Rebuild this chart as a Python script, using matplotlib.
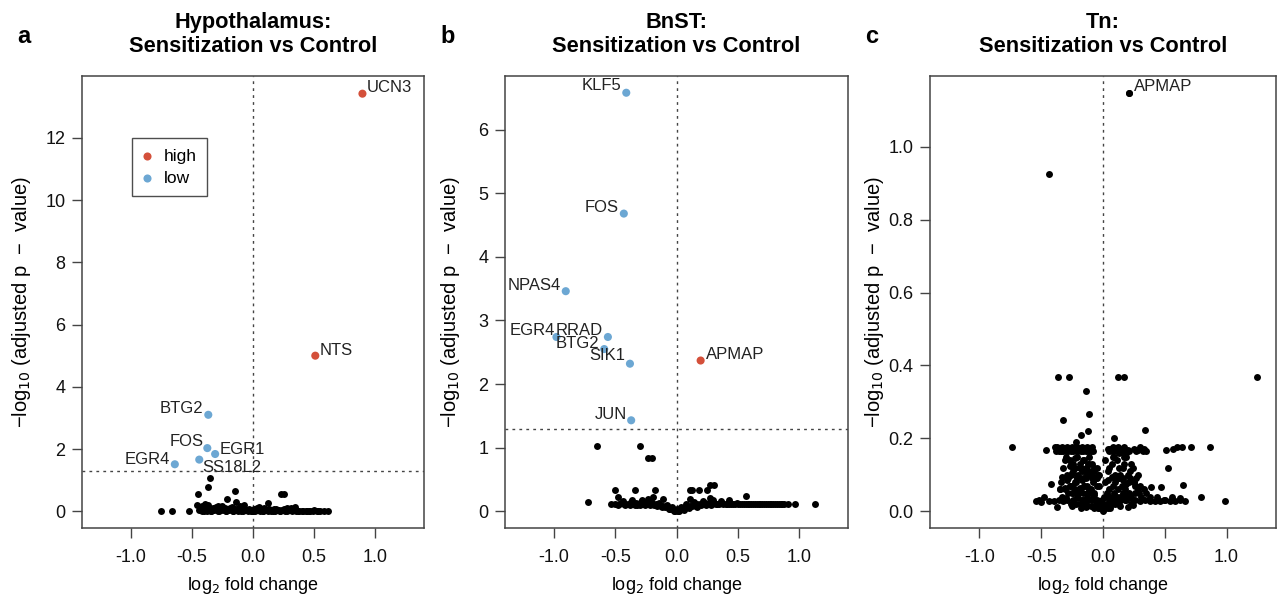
import matplotlib
matplotlib.use('Agg')
import matplotlib.pyplot as plt
from matplotlib.ticker import FuncFormatter

plt.rcParams['font.family'] = ['Liberation Sans', 'DejaVu Sans']

RED = '#d4503a'
BLUE = '#6ca7d3'

# ---- panel a: Hypothalamus ----
a_x = [-0.75, -0.66, -0.52, -0.35, -0.37, -0.45, -0.15, -0.21, -0.14, 0.23,
       0.25, -0.46, -0.37, -0.29, 0.125, 0.34, 0.55, 0.61, 0.50, 0.44,
       -0.44, -0.42, -0.40, -0.38, -0.36, -0.34, -0.32, -0.30, -0.28, -0.26,
       -0.24, -0.22, -0.20, -0.18, -0.16, -0.14, -0.12, -0.10, -0.08, -0.06,
       -0.04, -0.02, 0.00, 0.02, 0.04, 0.06, 0.08, 0.10, 0.12, 0.14,
       0.16, 0.18, 0.20, 0.22, 0.24, 0.26, 0.28, 0.30, 0.32, 0.35,
       0.38, 0.41, 0.47, 0.53, 0.58, -0.41, -0.37, -0.33, -0.27, -0.23,
       -0.19, -0.13, -0.09, -0.03, 0.03, 0.07, 0.13, 0.19, 0.25, -0.42,
       -0.30, -0.25, -0.17, -0.11, 0.05, 0.09, 0.28, 0.31, -0.39, -0.07,
       -0.43, -0.39, -0.35, -0.31, -0.27, -0.21, -0.15, -0.05, 0.01, 0.11,
       0.17, 0.21, 0.27, 0.33, 0.37, 0.40, 0.43, 0.46, 0.49, 0.52,
       -0.40, -0.34, -0.29, -0.22, -0.16, -0.10, -0.01, 0.08, 0.15, 0.22]
a_y = [0.00, 0.02, 0.00, 1.07, 0.78, 0.57, 0.64, 0.41, 0.30, 0.57,
       0.57, 0.21, 0.21, 0.16, 0.25, 0.14, 0.02, 0.02, 0.03, 0.01,
       0.03, 0.01, 0.05, 0.02, 0.08, 0.01, 0.04, 0.06, 0.02, 0.03,
       0.05, 0.01, 0.03, 0.07, 0.02, 0.04, 0.01, 0.05, 0.02, 0.03,
       0.01, 0.02, 0.00, 0.01, 0.03, 0.02, 0.01, 0.04, 0.02, 0.03,
       0.01, 0.02, 0.04, 0.01, 0.03, 0.02, 0.01, 0.03, 0.01, 0.02,
       0.01, 0.02, 0.01, 0.02, 0.01, 0.11, 0.13, 0.10, 0.12, 0.09,
       0.11, 0.08, 0.10, 0.07, 0.09, 0.06, 0.08, 0.07, 0.06, 0.17,
       0.15, 0.18, 0.14, 0.16, 0.13, 0.12, 0.10, 0.09, 0.24, 0.19,
       0.07, 0.06, 0.05, 0.08, 0.06, 0.07, 0.06, 0.05, 0.06, 0.05,
       0.06, 0.05, 0.06, 0.04, 0.02, 0.01, 0.02, 0.01, 0.02, 0.01,
       0.00, 0.00, 0.00, 0.00, 0.00, 0.00, 0.00, 0.00, 0.00, 0.00]
a_genes = ['UCN3', 'NTS', 'BTG2', 'FOS', 'EGR1', 'SS18L2', 'EGR4']
a_gene_x = [0.896, 0.51, -0.366, -0.374, -0.31, -0.44, -0.64]
a_gene_y = [13.42, 5.0, 3.10, 2.03, 1.84, 1.66, 1.51]
a_gene_grp = ['high', 'high', 'low', 'low', 'low', 'low', 'low']

# ---- panel b: BnST ----
b_x = [-0.645, -0.295, -0.23, -0.20, -0.72, -0.50, -0.34, -0.175, -0.475, -0.535,
       -0.235, -0.19, -0.11, 0.107, 0.128, 0.18, 0.25, 0.27, 0.31, 0.11,
       0.27, 0.43, 0.57, 0.97, 1.13, -0.50, -0.47, -0.45, -0.43, -0.41,
       -0.39, -0.37, -0.35, -0.33, -0.31, -0.29, -0.27, -0.25, -0.23, -0.21,
       -0.19, -0.17, -0.15, -0.13, -0.11, -0.09, -0.07, -0.05, -0.03, -0.01,
       0.01, 0.03, 0.05, 0.07, 0.09, 0.11, 0.13, 0.15, 0.17, 0.19,
       0.21, 0.23, 0.25, 0.27, 0.29, 0.31, 0.33, 0.35, 0.37, 0.40,
       0.43, 0.46, 0.49, 0.52, 0.55, 0.58, 0.61, 0.64, 0.67, 0.70,
       0.73, 0.76, 0.79, 0.82, 0.85, 0.88, 0.91, -0.44, -0.36, -0.28,
       -0.21, -0.14, -0.08, -0.04, 0.00, 0.04, 0.08, 0.14, 0.22, 0.30,
       -0.12, -0.06, -0.02, 0.02, 0.06, 0.10, -0.16, 0.17, 0.36, -0.32,
       -0.48, -0.42, -0.38, -0.34, -0.30, -0.26, -0.22, -0.18, 0.16, 0.20,
       0.24, 0.28, 0.32, 0.38, 0.415, 0.445, 0.475, 0.505, 0.535, 0.565,
       0.595, 0.625, 0.655, 0.685, 0.715, 0.745, 0.775, 0.805, 0.835, 0.865]
b_y = [1.02, 1.03, 0.83, 0.83, 0.15, 0.33, 0.33, 0.33, 0.23, 0.12,
       0.20, 0.22, 0.20, 0.33, 0.33, 0.33, 0.34, 0.41, 0.41, 0.20,
       0.21, 0.18, 0.24, 0.12, 0.12, 0.12, 0.12, 0.13, 0.12, 0.12,
       0.12, 0.14, 0.12, 0.13, 0.12, 0.15, 0.12, 0.13, 0.14, 0.12,
       0.12, 0.11, 0.10, 0.09, 0.08, 0.07, 0.06, 0.04, 0.03, 0.01,
       0.01, 0.03, 0.04, 0.05, 0.07, 0.08, 0.09, 0.10, 0.11, 0.12,
       0.12, 0.13, 0.12, 0.14, 0.12, 0.13, 0.12, 0.12, 0.13, 0.12,
       0.12, 0.12, 0.13, 0.12, 0.12, 0.12, 0.12, 0.12, 0.12, 0.12,
       0.12, 0.12, 0.12, 0.12, 0.12, 0.12, 0.12, 0.16, 0.17, 0.18,
       0.16, 0.13, 0.10, 0.07, 0.04, 0.07, 0.11, 0.15, 0.16, 0.17,
       0.06, 0.03, 0.00, 0.00, 0.02, 0.05, 0.08, 0.07, 0.16, 0.10,
       0.10, 0.10, 0.10, 0.10, 0.10, 0.10, 0.10, 0.10, 0.09, 0.10,
       0.10, 0.10, 0.11, 0.11, 0.12, 0.12, 0.12, 0.12, 0.12, 0.12,
       0.12, 0.12, 0.12, 0.12, 0.12, 0.12, 0.12, 0.12, 0.12, 0.12]
b_genes = ['KLF5', 'FOS', 'NPAS4', 'EGR4', 'RRAD', 'BTG2', 'SIK1', 'APMAP', 'JUN']
b_gene_x = [-0.41, -0.43, -0.904, -0.98, -0.56, -0.59, -0.38, 0.197, -0.37]
b_gene_y = [6.58, 4.68, 3.46, 2.74, 2.74, 2.55, 2.32, 2.37, 1.43]
b_gene_grp = ['low', 'low', 'low', 'low', 'low', 'low', 'low', 'high', 'low']

# ---- panel c: Tn ----
c_x = [0.21, -0.44, -0.363, -0.277, 0.121, 0.169, 1.245, -0.135, -0.113, -0.32,
       0.336, -0.74, -0.46, -0.39, -0.37, -0.35, -0.33, -0.31, -0.29, -0.27,
       -0.25, -0.23, -0.21, -0.19, -0.17, -0.15, -0.13, -0.11, -0.09, 0.04,
       0.06, 0.08, 0.10, 0.12, 0.14, 0.17, 0.20, 0.25, 0.28, 0.30,
       0.33, 0.51, 0.57, 0.60, 0.64, 0.71, 0.865, 0.53, -0.42, 0.645,
       0.39, 0.47, 0.35, 0.79, 0.986, -0.546, -0.44, -0.40, -0.36, -0.32,
       0.30, 0.34, 0.38, 0.42, 0.46, 0.50, 0.54, 0.58, 0.62, 0.66,
       -0.30, -0.27, -0.24, -0.21, -0.18, -0.15, -0.12, -0.09, -0.06, -0.03,
       0.02, 0.04, 0.07, 0.10, 0.13, 0.16, 0.19, 0.22, 0.25, 0.28,
       -0.34, -0.31, -0.28, -0.25, -0.22, -0.19, -0.16, -0.13, -0.10, -0.07,
       -0.05, -0.02, 0.00, 0.03, 0.06, 0.09, 0.12, 0.15, 0.18, 0.21,
       -0.33, -0.29, -0.25, -0.21, -0.17, -0.13, -0.09, -0.06, -0.04, -0.01,
       0.01, 0.04, 0.07, 0.11, 0.14, 0.18, 0.22, 0.26, 0.24, -0.26,
       -0.23, -0.20, -0.17, -0.14, -0.11, -0.08, 0.05, 0.08, 0.12, 0.16,
       -0.22, -0.18, -0.12, 0.06, 0.09, 0.19, 0.23, -0.05, -0.03, 0.02,
       -0.37, -0.25, -0.18, -0.14, 0.03, 0.06, 0.14, 0.20, 0.24, 0.38,
       -0.38, -0.36, -0.34, -0.32, -0.30, -0.28, -0.26, -0.24, -0.22, -0.20,
       -0.18, -0.16, -0.14, -0.12, -0.10, -0.08, 0.05, 0.07, 0.09, 0.11,
       0.13, 0.15, 0.18, 0.21, 0.27, 0.32, 0.35, -0.32, -0.29, -0.26,
       -0.24, -0.21, -0.19, -0.16, -0.14, -0.11, -0.09, -0.07, -0.05, -0.28,
       -0.24, -0.20, -0.16, -0.12, -0.08, -0.30, -0.26, -0.22, -0.18, -0.14,
       -0.10, -0.07, -0.03, 0.03, 0.05, 0.08, 0.10, 0.13, 0.16, 0.19,
       0.21, 0.23, 0.26, 0.29, 0.31, 0.05, 0.08, 0.11, 0.14, 0.17,
       0.20, 0.24, 0.27, 0.30, 0.33, -0.52, -0.48, 0.44, 0.49, 0.56,
       0.62, -0.50, -0.35, -0.27, -0.23, -0.15, -0.11, 0.00, 0.01, -0.01,
       -0.35, -0.31, -0.27, -0.23, -0.19, -0.15, -0.11, -0.07, -0.33, -0.29,
       -0.25, -0.21, -0.17, -0.13, -0.09, -0.05, -0.31, -0.27, -0.23, -0.19,
       -0.15, -0.11, -0.07, -0.04, 0.02, 0.05, 0.08, 0.11, 0.14, 0.17,
       0.20, 0.23, 0.26, 0.04, 0.07, 0.10, 0.13, 0.16, 0.19, 0.22,
       0.25, 0.28, -0.24, -0.20, -0.16, -0.12, 0.09, 0.13, 0.17, -0.02]
c_y = [1.148, 0.926, 0.369, 0.369, 0.369, 0.369, 0.369, 0.33, 0.266, 0.249,
       0.224, 0.175, 0.169, 0.175, 0.175, 0.173, 0.175, 0.172, 0.175, 0.174,
       0.175, 0.172, 0.175, 0.174, 0.175, 0.172, 0.175, 0.174, 0.175, 0.170,
       0.172, 0.175, 0.173, 0.175, 0.172, 0.175, 0.169, 0.172, 0.169, 0.175,
       0.170, 0.169, 0.172, 0.175, 0.175, 0.175, 0.175, 0.119, 0.076, 0.073,
       0.067, 0.067, 0.050, 0.039, 0.027, 0.027, 0.027, 0.028, 0.030, 0.027,
       0.027, 0.030, 0.027, 0.028, 0.027, 0.030, 0.027, 0.027, 0.030, 0.027,
       0.15, 0.14, 0.13, 0.15, 0.12, 0.11, 0.13, 0.10, 0.09, 0.07,
       0.08, 0.11, 0.13, 0.10, 0.12, 0.09, 0.15, 0.11, 0.08, 0.10,
       0.08, 0.06, 0.09, 0.07, 0.08, 0.06, 0.09, 0.07, 0.06, 0.05,
       0.03, 0.02, 0.00, 0.02, 0.04, 0.05, 0.06, 0.07, 0.06, 0.08,
       0.04, 0.03, 0.05, 0.04, 0.03, 0.04, 0.03, 0.02, 0.01, 0.005,
       0.005, 0.01, 0.02, 0.03, 0.04, 0.03, 0.04, 0.05, 0.03, 0.10,
       0.12, 0.10, 0.11, 0.09, 0.11, 0.08, 0.06, 0.07, 0.09, 0.12,
       0.19, 0.21, 0.22, 0.17, 0.20, 0.16, 0.13, 0.12, 0.10, 0.14,
       0.012, 0.015, 0.010, 0.012, 0.015, 0.010, 0.015, 0.012, 0.018, 0.04,
       0.165, 0.165, 0.165, 0.165, 0.165, 0.165, 0.165, 0.165, 0.165, 0.165,
       0.165, 0.165, 0.165, 0.165, 0.165, 0.165, 0.165, 0.165, 0.165, 0.165,
       0.165, 0.165, 0.165, 0.165, 0.165, 0.165, 0.165, 0.12, 0.10, 0.13,
       0.11, 0.09, 0.13, 0.14, 0.12, 0.15, 0.13, 0.11, 0.09, 0.05,
       0.05, 0.05, 0.05, 0.05, 0.04, 0.035, 0.02, 0.02, 0.02, 0.02,
       0.015, 0.01, 0.01, 0.05, 0.03, 0.04, 0.02, 0.02, 0.05, 0.03,
       0.05, 0.02, 0.07, 0.05, 0.04, 0.12, 0.15, 0.14, 0.10, 0.13,
       0.10, 0.12, 0.09, 0.07, 0.06, 0.03, 0.04, 0.04, 0.03, 0.04,
       0.035, 0.025, 0.06, 0.07, 0.08, 0.07, 0.06, 0.02, 0.04, 0.03,
       0.060, 0.065, 0.070, 0.060, 0.065, 0.070, 0.060, 0.045, 0.095, 0.085,
       0.105, 0.095, 0.085, 0.100, 0.090, 0.070, 0.140, 0.125, 0.145, 0.120,
       0.140, 0.130, 0.120, 0.100, 0.010, 0.020, 0.030, 0.040, 0.030, 0.045,
       0.035, 0.040, 0.030, 0.085, 0.095, 0.080, 0.090, 0.085, 0.075, 0.090,
       0.080, 0.060, 0.030, 0.035, 0.030, 0.030, 0.150, 0.160, 0.150, 0.020]
c_genes = ['APMAP']
c_gene_x = [0.21]
c_gene_y = [1.148]

# label placement (pixels): dx, dy, side
a_lab = {'UCN3': (4, 6, 'left'), 'NTS': (4, 5, 'left'), 'BTG2': (-5, 6, 'right'),
         'FOS': (-4, 7, 'right'), 'EGR1': (4, 5, 'left'), 'SS18L2': (3, -8, 'left'),
         'EGR4': (-5, 5, 'right')}
b_lab = {'KLF5': (-5, 7, 'right'), 'FOS': (-5, 6, 'right'), 'NPAS4': (-5, 6, 'right'),
         'EGR4': (-1, 6, 'right'), 'RRAD': (-5, 6, 'right'), 'BTG2': (-5, 6, 'right'),
         'SIK1': (-5, 8, 'right'), 'APMAP': (5, 6, 'left'), 'JUN': (-4, 6, 'right')}
c_lab = {'APMAP': (5, 6, 'left')}

fig = plt.figure(figsize=(12.8, 6.04), dpi=100)
W, H = 1280, 604
ax_boxes = [(82, 424), (505, 848), (930, 1276)]
top, bot = 76, 528

panels = [
    ('Hypothalamus:\nSensitization vs Control', 'a', a_x, a_y, a_genes, a_gene_x, a_gene_y,
     a_gene_grp, a_lab, 13.45, [0, 2, 4, 6, 8, 10, 12], '{:.0f}', 33),
    ('BnST:\nSensitization vs Control', 'b', b_x, b_y, b_genes, b_gene_x, b_gene_y,
     b_gene_grp, b_lab, 6.58, [0, 1, 2, 3, 4, 5, 6], '{:.0f}', 462),
    ('Tn:\nSensitization vs Control', 'c', c_x, c_y, c_genes, c_gene_x, c_gene_y,
     None, c_lab, 1.148, [0.0, 0.2, 0.4, 0.6, 0.8, 1.0], '{:.1f}', 886),
]

for (l, r), (title, letter, xs, ys, genes, gx, gy, grp, lab, ymax, yt, yfmt, ylab_px) in zip(ax_boxes, panels):
    ax = fig.add_axes([l / W, (H - bot) / H, (r - l) / W, (bot - top) / H])
    pad = ymax * 0.04
    ax.set_xlim(-1.4, 1.4)
    ax.set_ylim(-pad, ymax + pad)

    ax.scatter(xs, ys, s=25, c='black', linewidths=0, zorder=3)
    if grp is None:
        ax.scatter(gx, gy, s=25, c='black', linewidths=0, zorder=3)
    else:
        cols = [RED if g == 'high' else BLUE for g in grp]
        ax.scatter(gx, gy, s=34, c=cols, linewidths=0, zorder=4)
    for name, x, y in zip(genes, gx, gy):
        dx, dy, side = lab[name]
        ax.annotate(name, (x, y), xytext=(dx * 0.72, dy * 0.72), textcoords='offset points',
                    ha=side, va='center', fontsize=12, color='#222222', zorder=5)

    ax.axvline(0, color='#444444', lw=1, ls=(0, (2, 3)), zorder=1)
    if 1.301 < ymax + pad:
        ax.axhline(1.301, color='#444444', lw=1, ls=(0, (2, 3)), zorder=1)

    ax.set_xticks([-1.0, -0.5, 0.0, 0.5, 1.0])
    ax.xaxis.set_major_formatter(FuncFormatter(lambda v, p: '{:.1f}'.format(v)))
    ax.set_yticks(yt)
    ax.yaxis.set_major_formatter(FuncFormatter(lambda v, p, f=yfmt: f.format(v)))
    ax.tick_params(direction='out', length=7, width=1, color='#444444', labelsize=13,
                   pad=5, labelcolor='#111111')
    ax.tick_params(axis='x', pad=8)
    for s in ax.spines.values():
        s.set_color('#444444')
        s.set_linewidth(1.1)

    ax.set_xlabel('log$_2$ fold change', fontsize=13)
    ax.xaxis.set_label_coords(0.5, -0.105)
    ax.set_ylabel('\u2212log$_{10}$ (adjusted p  \u2212  value)', fontsize=14.5)
    ax.yaxis.set_label_coords((ylab_px - l) / (r - l), 0.5)

    ax.text(0.5, 1 + 24 / (bot - top), title, transform=ax.transAxes, ha='center',
            va='baseline', fontsize=15.7, fontweight='bold', linespacing=1.2)
    fig.text((l - 65) / W, 1 - 43 / H, letter, ha='left', va='baseline',
             fontsize=17, fontweight='bold')

    if letter == 'a':
        h1 = ax.scatter([], [], s=34, c=RED, linewidths=0)
        h2 = ax.scatter([], [], s=34, c=BLUE, linewidths=0)
        leg = ax.legend([h1, h2], ['high', 'low'], loc='upper left',
                        bbox_to_anchor=(0.145, 0.862), borderaxespad=0, fontsize=12.5,
                        frameon=True, fancybox=False, edgecolor='#222222',
                        handletextpad=0.65, borderpad=0.6, labelspacing=0.4,
                        handlelength=0.6)
        leg.get_frame().set_linewidth(1.0)

fig.savefig('out.png', dpi=100)
